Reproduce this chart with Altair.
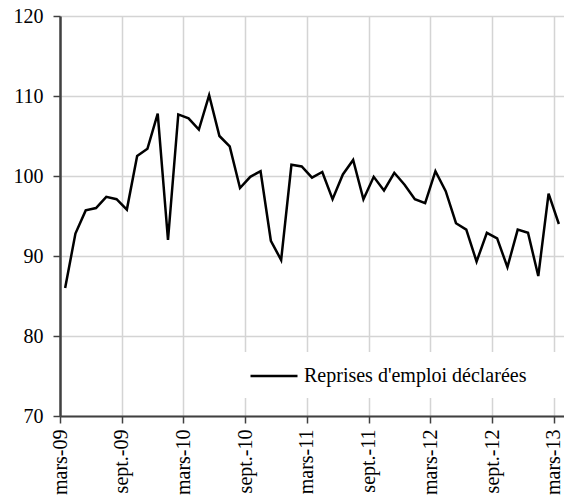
import altair as alt
import pandas as pd

# ---- data ----
mois = ["janv.", "févr.", "mars", "avr.", "mai", "juin", "juil.", "août",
        "sept.", "oct.", "nov.", "déc."]
periodes = [f"{mois[(2 + i) % 12]}-{9 + (2 + i) // 12:02d}" for i in range(49)]
valeurs = [86.0, 92.8, 95.7, 96.0, 97.4, 97.1, 95.8, 102.5, 103.4, 107.8,
           92.0, 107.7, 107.2, 105.8, 110.1, 105.0, 103.7, 98.5, 99.9, 100.6,
           91.9, 89.5, 101.4, 101.2, 99.8, 100.5, 97.1, 100.2, 102.0, 97.1,
           99.9, 98.2, 100.4, 98.9, 97.1, 96.6, 100.6, 98.1, 94.1, 93.3,
           89.3, 92.9, 92.2, 88.6, 93.3, 92.9, 87.5, 97.8, 94.0]
etiquettes = ["mars-09", "sept.-09", "mars-10", "sept.-10", "mars-11",
              "sept.-11", "mars-12", "sept.-12", "mars-13"]
y_ticks = [70, 80, 90, 100, 110, 120]
serie = "Reprises d'emploi déclarées"

df = pd.DataFrame({
    "periode": periodes,
    "rang": list(range(len(valeurs))),
    "valeur": valeurs,
    "serie": [serie] * len(valeurs),
})

FONT = "Liberation Serif"
tick_vals = [i * 6 - 0.5 for i in range(len(etiquettes))]
label_expr = "[" + ",".join(f"'{e}'" for e in etiquettes) + "][round((datum.value + 0.5) / 6)]"

x_enc = alt.X(
    "rang:Q",
    scale=alt.Scale(domain=[-0.5, len(valeurs) - 0.5], nice=False, zero=False),
    axis=alt.Axis(
        values=tick_vals, labelExpr=label_expr, title=None,
        labelAngle=270, labelAlign="right", labelBaseline="middle",
        labelFont=FONT, labelFontSize=20, labelColor="black",
        labelPadding=6, tickSize=7, tickColor="#404040", tickWidth=1.5,
        domainColor="#404040", domainWidth=2,
        grid=True, gridColor="#d4d4d4", gridWidth=1.5,
        labelOverlap=False, labelFlush=False,
    ),
)
y_enc = alt.Y(
    "valeur:Q",
    scale=alt.Scale(domain=[70, 120], nice=False, zero=False),
    axis=alt.Axis(
        values=y_ticks, title=None,
        labelFont=FONT, labelFontSize=20, labelColor="black",
        labelPadding=10, tickSize=7, tickColor="#404040", tickWidth=1.5,
        domainColor="#404040", domainWidth=2.5,
        grid=True, gridColor="#d4d4d4", gridWidth=1.5,
    ),
)

legend_box = alt.Chart(df).mark_rect(fill="white").encode(
    x=alt.value(178), x2=alt.value(502), y=alt.value(336), y2=alt.value(382)
)

line = alt.Chart(df).mark_line(strokeWidth=2.5).encode(
    x=x_enc,
    y=y_enc,
    color=alt.Color(
        "serie:N",
        scale=alt.Scale(range=["black"]),
        legend=alt.Legend(
            title=None, orient="none", legendX=189, legendY=335,
            symbolType="stroke", symbolSize=2209, symbolStrokeWidth=2.5,
            labelFont=FONT, labelFontSize=20, labelColor="black",
            labelOffset=5, padding=0, labelLimit=400,
        ),
    ),
)

chart = alt.layer(legend_box, line).properties(
    width=504, height=400,
    autosize=alt.AutoSizeParams(type="none"),
    padding={"left": 52, "top": 8, "right": 0, "bottom": 79},
).configure_view(
    stroke="#8c8c8c", strokeWidth=2
).configure(background="white")

chart.save("out.html", embed_options={"renderer": "svg", "actions": False})
